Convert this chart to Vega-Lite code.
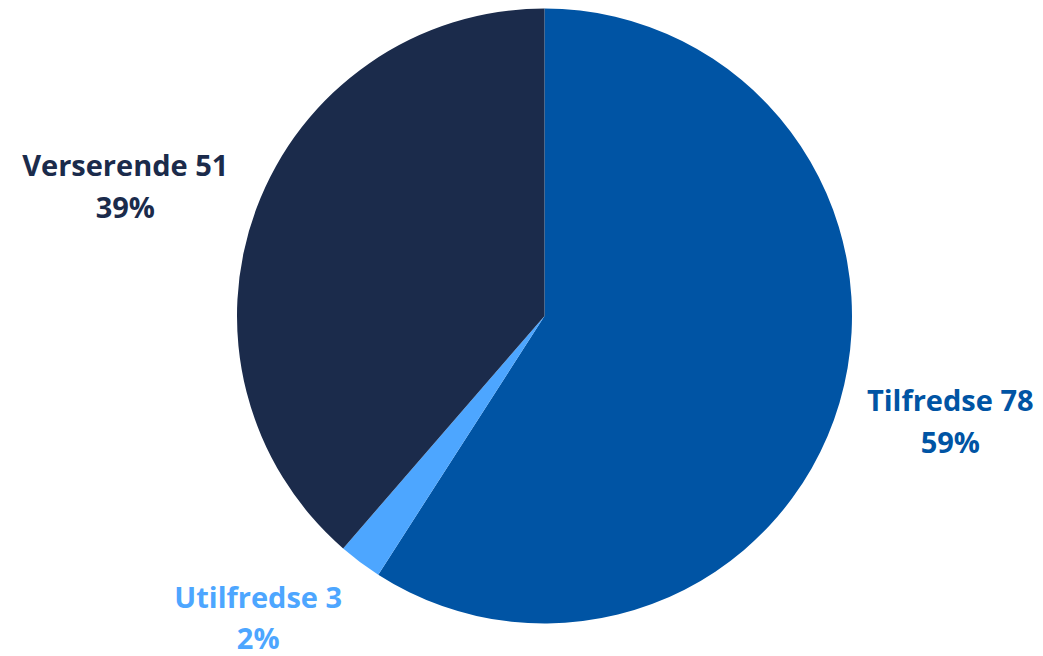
{
  "$schema": "https://vega.github.io/schema/vega-lite/v6.json",
  "width": 997,
  "height": 632,
  "autosize": "none",
  "padding": {"left": 46, "top": 0, "right": 0, "bottom": 24},
  "background": "white",
  "config": {"view": {"stroke": null}},
  "data": {
    "values": [
      {"category": "Tilfredse", "value": 78, "pct": "59%", "order": 1},
      {"category": "Utilfredse", "value": 3, "pct": "2%", "order": 2},
      {"category": "Verserende", "value": 51, "pct": "39%", "order": 3}
    ]
  },
  "transform": [
    {"calculate": "datum.category + ' ' + datum.value + '\\n' + datum.pct", "as": "label"}
  ],
  "encoding": {
    "theta": {"field": "value", "type": "quantitative", "stack": true},
    "order": {"field": "order", "type": "quantitative"},
    "color": {
      "field": "category",
      "type": "nominal",
      "scale": {
        "domain": ["Tilfredse", "Utilfredse", "Verserende"],
        "range": ["#0054A4", "#4DA6FF", "#1B2B4B"]
      },
      "legend": null
    }
  },
  "layer": [
    {"mark": {"type": "arc", "outerRadius": 307.5}},
    {
      "mark": {"type": "text", "radius": 425, "dx": -2, "dy": -34, "font": "Open Sans", "fontWeight": "bold", "fontSize": 29, "lineBreak": "\n", "lineHeight": 42, "align": "center", "baseline": "middle"},
      "encoding": {"text": {"condition": {"test": "datum.category === 'Tilfredse'", "field": "label"}, "value": ""}}
    },
    {
      "mark": {"type": "text", "radius": 425, "dx": -21, "dy": 0, "font": "Open Sans", "fontWeight": "bold", "fontSize": 29, "lineBreak": "\n", "lineHeight": 42, "align": "center", "baseline": "middle"},
      "encoding": {"text": {"condition": {"test": "datum.category === 'Verserende'", "field": "label"}, "value": ""}}
    },
    {
      "mark": {"type": "text", "radius": 381, "dx": -58, "dy": -22, "font": "Open Sans", "fontWeight": "bold", "fontSize": 29, "lineBreak": "\n", "lineHeight": 41, "align": "center", "baseline": "middle"},
      "encoding": {"text": {"condition": {"test": "datum.category === 'Utilfredse'", "field": "label"}, "value": ""}}
    }
  ]
}
